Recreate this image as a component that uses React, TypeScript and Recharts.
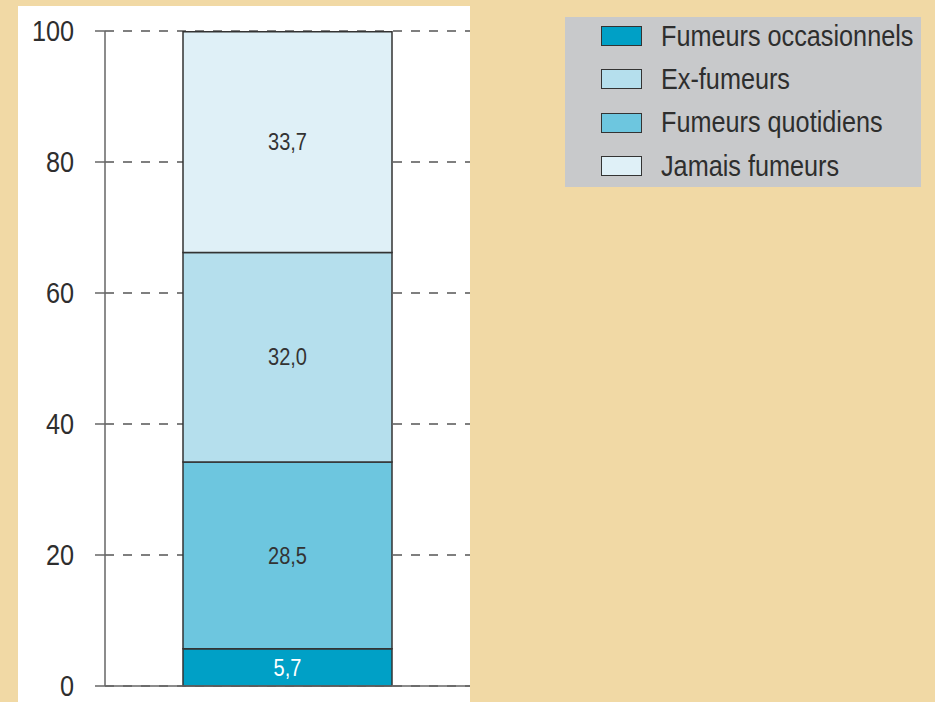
import { BarChart, Bar, XAxis, YAxis, CartesianGrid, LabelList } from 'recharts';

// Répartition selon le statut tabagique (%)
const categories = ['Ensemble'];
const occasionnels = [5.7];
const quotidiens = [28.5];
const exFumeurs = [32.0];
const jamaisFumeurs = [33.7];
const yTicks = [0, 20, 40, 60, 80, 100];

const series = [
  { key: 'occasionnels', name: 'Fumeurs occasionnels', values: occasionnels, color: '#00a0c6', labelColor: '#ffffff' },
  { key: 'quotidiens', name: 'Fumeurs quotidiens', values: quotidiens, color: '#6dc6df', labelColor: '#333333' },
  { key: 'exFumeurs', name: 'Ex-fumeurs', values: exFumeurs, color: '#b5dfed', labelColor: '#333333' },
  { key: 'jamais', name: 'Jamais fumeurs', values: jamaisFumeurs, color: '#dff0f7', labelColor: '#333333' },
];

// legend order as printed in the source
const legendOrder = ['occasionnels', 'exFumeurs', 'quotidiens', 'jamais'];

const data = categories.map((c, i) => {
  const row: Record<string, string | number> = { name: c };
  series.forEach((s) => {
    row[s.key] = s.values[i];
  });
  return row;
});

const FONT = '"Liberation Sans", Arial, sans-serif';
const TEXT = '#2e2e2e';
const SQUEEZE = 0.87;

function YTick({ x, y, payload }: any) {
  return (
    <text
      transform={`translate(${x},${y}) scale(${SQUEEZE},1)`}
      textAnchor="end"
      dy="0.36em"
      fontSize={29}
      fontFamily={FONT}
      fill={TEXT}
    >
      {payload.value}
    </text>
  );
}

function makeLabel(color: string) {
  return function SegmentLabel({ x, y, width, height, value }: any) {
    const cx = Number(x) + Number(width) / 2;
    const cy = Number(y) + Number(height) / 2;
    return (
      <text
        transform={`translate(${cx},${cy}) scale(${SQUEEZE},1)`}
        textAnchor="middle"
        dy="0.36em"
        fontSize={23}
        fontFamily={FONT}
        fill={color}
      >
        {Number(value).toFixed(1).replace('.', ',')}
      </text>
    );
  };
}

export default function App() {
  return (
    <div
      style={{
        position: 'absolute',
        left: 0,
        top: 0,
        width: 935,
        height: 702,
        background: '#f1d9a5',
        overflow: 'hidden',
        fontFamily: FONT,
      }}
    >
      {/* white panel behind the plot */}
      <div style={{ position: 'absolute', left: 18, top: 6, width: 452, height: 700, background: '#ffffff' }} />

      <div style={{ position: 'absolute', left: 0, top: 0 }}>
        <BarChart width={935} height={702} data={data} margin={{ top: 31, right: 465, bottom: 0, left: 0 }}>
          <CartesianGrid vertical={false} stroke="#555" strokeWidth={1.5} strokeDasharray="9 9" />
          <XAxis
            dataKey="name"
            height={16}
            tick={false}
            tickLine={false}
            axisLine={{ stroke: '#666', strokeWidth: 1.5 }}
          />
          <YAxis
            width={105}
            domain={[0, 100]}
            ticks={yTicks}
            interval={0}
            tickSize={10}
            tickMargin={21}
            tickLine={{ stroke: '#666', strokeWidth: 1.5 }}
            axisLine={{ stroke: '#666', strokeWidth: 1.5 }}
            tick={<YTick />}
          />
          {series.map((s) => (
            <Bar
              key={s.key}
              dataKey={s.key}
              name={s.name}
              stackId="a"
              fill={s.color}
              stroke="#333"
              strokeWidth={1.5}
              barSize={209}
              isAnimationActive={false}
            >
              <LabelList dataKey={s.key} content={makeLabel(s.labelColor)} />
            </Bar>
          ))}
        </BarChart>
      </div>

      {/* legend */}
      <div style={{ position: 'absolute', left: 565, top: 17, width: 356, height: 170, background: '#c8c9cb' }}>
        {legendOrder.map((k, i) => {
          const s = series.find((d) => d.key === k)!;
          return (
            <div
              key={k}
              style={{
                position: 'absolute',
                left: 36,
                top: -2 + i * 43.4,
                height: 42,
                display: 'flex',
                alignItems: 'center',
                whiteSpace: 'nowrap',
              }}
            >
              <span
                style={{
                  display: 'inline-block',
                  width: 39,
                  height: 18,
                  background: s.color,
                  border: '1.5px solid #333',
                }}
              />
              <span
                style={{
                  display: 'inline-block',
                  marginLeft: 19,
                  fontSize: 29,
                  color: TEXT,
                  transform: `scaleX(${SQUEEZE})`,
                  transformOrigin: 'left center',
                }}
              >
                {s.name}
              </span>
            </div>
          );
        })}
      </div>
    </div>
  );
}
